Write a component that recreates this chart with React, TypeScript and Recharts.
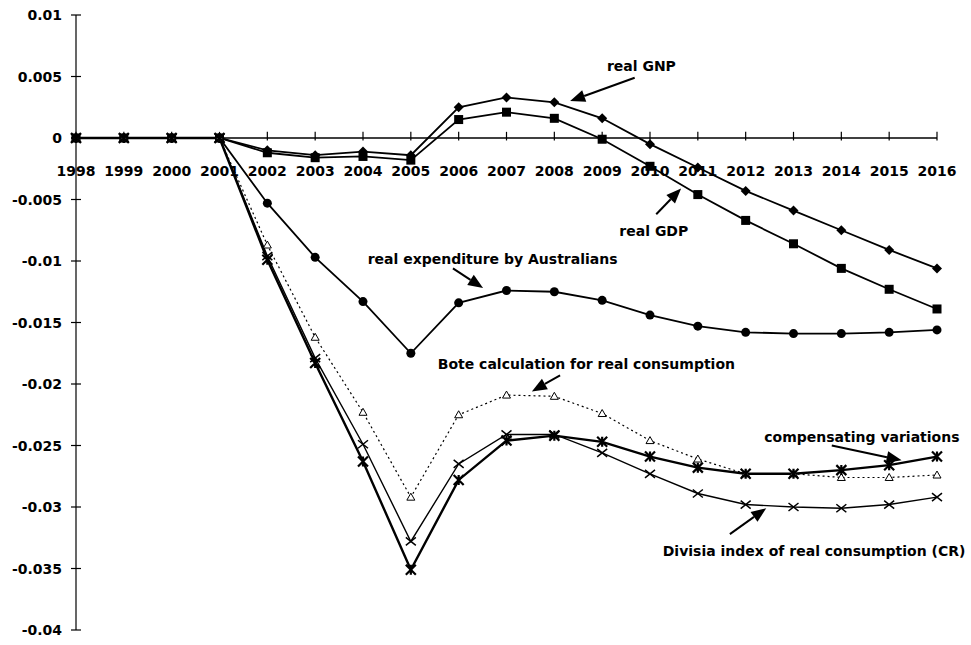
import React from 'react';
import { LineChart, Line, XAxis, YAxis, ReferenceLine, ReferenceDot } from 'recharts';

const years = [1998, 1999, 2000, 2001, 2002, 2003, 2004, 2005, 2006, 2007, 2008, 2009, 2010, 2011, 2012, 2013, 2014, 2015, 2016];
const yTicks = [0.01, 0.005, 0, -0.005, -0.01, -0.015, -0.02, -0.025, -0.03, -0.035, -0.04];

const realGNP = [0, 0, 0, 0, -0.001, -0.0014, -0.0011, -0.0014, 0.0025, 0.0033, 0.0029, 0.0016, -0.0005, -0.0024, -0.0043, -0.0059, -0.0075, -0.0091, -0.0106];
const realGDP = [0, 0, 0, 0, -0.0012, -0.0016, -0.0015, -0.0018, 0.0015, 0.0021, 0.0016, -0.0001, -0.0023, -0.0046, -0.0067, -0.0086, -0.0106, -0.0123, -0.0139];
const realExpenditure = [0, 0, 0, 0, -0.0053, -0.0097, -0.0133, -0.0175, -0.0134, -0.0124, -0.0125, -0.0132, -0.0144, -0.0153, -0.0158, -0.0159, -0.0159, -0.0158, -0.0156];
const bote = [0, 0, 0, 0, -0.0087, -0.0162, -0.0223, -0.0292, -0.0225, -0.0209, -0.021, -0.0224, -0.0246, -0.0261, -0.0273, -0.0273, -0.0276, -0.0276, -0.0274];
const compensating = [0, 0, 0, 0, -0.0099, -0.0183, -0.0263, -0.0351, -0.0278, -0.0246, -0.0242, -0.0247, -0.0259, -0.0268, -0.0273, -0.0273, -0.027, -0.0266, -0.0259];
const divisia = [0, 0, 0, 0, -0.0096, -0.0179, -0.0249, -0.0328, -0.0265, -0.0241, -0.0241, -0.0256, -0.0273, -0.0289, -0.0298, -0.03, -0.0301, -0.0298, -0.0292];

// annotation text (centre) and arrows, in data units
const notes = [
  { text: 'real GNP', x: 2009.82, y: 0.00585 },
  { text: 'real GDP', x: 2010.08, y: -0.0076 },
  { text: 'real expenditure by Australians', x: 2006.71, y: -0.0098 },
  { text: 'Bote calculation for real consumption', x: 2008.67, y: -0.0184 },
  { text: 'compensating variations', x: 2014.43, y: -0.0243 },
  { text: 'Divisia index of real consumption (CR)', x: 2013.43, y: -0.0336 },
];
const arrows = [
  { x1: 2009.68, y1: 0.0049, x2: 2008.33, y2: 0.003 },
  { x1: 2010.13, y1: -0.0062, x2: 2010.65, y2: -0.0041 },
  { x1: 2005.88, y1: -0.0106, x2: 2006.51, y2: -0.0122 },
  { x1: 2008.12, y1: -0.0193, x2: 2007.53, y2: -0.0206 },
  { x1: 2013.8, y1: -0.025, x2: 2015.26, y2: -0.0262 },
  { x1: 2011.67, y1: -0.0322, x2: 2012.43, y2: -0.0301 },
];

const data = years.map((year, i) => ({
  year,
  gnp: realGNP[i],
  gdp: realGDP[i],
  exp: realExpenditure[i],
  bote: bote[i],
  comp: compensating[i],
  div: divisia[i],
}));

const FONT = '"DejaVu Sans", Arial, sans-serif';

const diamond = (p: any) => (
  <path key={`dm${p.index}`} d={`M${p.cx},${p.cy - 5}L${p.cx + 5},${p.cy}L${p.cx},${p.cy + 5}L${p.cx - 5},${p.cy}Z`} fill="#000" />
);
const square = (p: any) => <rect key={`sq${p.index}`} x={p.cx - 4.5} y={p.cy - 4.5} width={9} height={9} fill="#000" />;
const circle = (p: any) => <circle key={`ci${p.index}`} cx={p.cx} cy={p.cy} r={4.5} fill="#000" />;
const triangle = (p: any) => (
  <path key={`tr${p.index}`} d={`M${p.cx},${p.cy - 4}L${p.cx + 4},${p.cy + 3}L${p.cx - 4},${p.cy + 3}Z`} fill="#fff" stroke="#000" strokeWidth={1} />
);
const asterisk = (p: any) => (
  <path key={`as${p.index}`} d={`M${p.cx - 5},${p.cy - 5}L${p.cx + 5},${p.cy + 5}M${p.cx - 5},${p.cy + 5}L${p.cx + 5},${p.cy - 5}M${p.cx},${p.cy - 5}L${p.cx},${p.cy + 5}`} stroke="#000" strokeWidth={2.2} />
);
const cross = (p: any) => (
  <path key={`cr${p.index}`} d={`M${p.cx - 5},${p.cy - 4}L${p.cx + 5},${p.cy + 4}M${p.cx - 5},${p.cy + 4}L${p.cx + 5},${p.cy - 4}`} stroke="#000" strokeWidth={1.5} />
);

const YTick = (props: any) => {
  const { x, y, payload } = props;
  return (
    <g>
      <line x1={x - 5} x2={x + 5} y1={y} y2={y} stroke="#000" strokeWidth={1.2} />
      <text x={x - 14} y={y} textAnchor="end" dominantBaseline="central" fontFamily={FONT} fontWeight="bold" fontSize={14} fill="#000">
        {String(payload.value)}
      </text>
    </g>
  );
};

const Arrow = (props: any) => {
  const { x1, y1, x2, y2 } = props;
  const ang = Math.atan2(y2 - y1, x2 - x1);
  const len = 15;
  const w = 6;
  const bx = x2 - len * Math.cos(ang);
  const by = y2 - len * Math.sin(ang);
  const px = -Math.sin(ang) * w;
  const py = Math.cos(ang) * w;
  return (
    <g>
      <line x1={x1} y1={y1} x2={bx} y2={by} stroke="#000" strokeWidth={2} />
      <path d={`M${x2},${y2}L${bx + px},${by + py}L${bx - px},${by - py}Z`} fill="#000" />
    </g>
  );
};

export default function App() {
  return (
    <div style={{ position: 'absolute', left: 0, top: 0, background: '#fff' }}>
      <LineChart width={971} height={645} data={data} margin={{ top: 15, right: 34, bottom: 15, left: 0 }}>
        <XAxis dataKey="year" type="number" domain={[1998, 2016]} hide />
        <YAxis
          width={76}
          domain={[-0.04, 0.01]}
          ticks={yTicks}
          interval={0}
          tickSize={0}
          tickMargin={0}
          tickLine={false}
          axisLine={{ stroke: '#000', strokeWidth: 1.2 }}
          tick={<YTick />}
        />
        <ReferenceLine y={0} stroke="#000" strokeWidth={1.4} />
        {years.map((yr) => (
          <ReferenceLine
            key={`t${yr}`}
            segment={[{ x: yr, y: 0.0005 }, { x: yr, y: -0.0002 }]}
            stroke="#000"
            strokeWidth={1.2}
          />
        ))}
        {years.map((yr) => (
          <ReferenceDot
            key={`l${yr}`}
            x={yr}
            y={0}
            r={0}
            shape={(p: any) => (
              <text x={p.cx} y={p.cy + 38} textAnchor="middle" fontFamily={FONT} fontWeight="bold" fontSize={14} fill="#000">
                {yr}
              </text>
            )}
          />
        ))}
        <Line dataKey="exp" stroke="#000" strokeWidth={1.8} dot={circle} isAnimationActive={false} />
        <Line dataKey="gdp" stroke="#000" strokeWidth={1.8} dot={square} isAnimationActive={false} />
        <Line dataKey="gnp" stroke="#000" strokeWidth={1.8} dot={diamond} isAnimationActive={false} />
        <Line dataKey="bote" stroke="#000" strokeWidth={1.2} strokeDasharray="2 3" dot={triangle} isAnimationActive={false} />
        <Line dataKey="div" stroke="#000" strokeWidth={1.4} dot={cross} isAnimationActive={false} />
        <Line dataKey="comp" stroke="#000" strokeWidth={2.4} dot={asterisk} isAnimationActive={false} />
        {arrows.map((a, i) => (
          <ReferenceLine
            key={`a${i}`}
            segment={[{ x: a.x1, y: a.y1 }, { x: a.x2, y: a.y2 }]}
            stroke="#000"
            shape={<Arrow />}
          />
        ))}
        {notes.map((n) => (
          <ReferenceDot
            key={n.text}
            x={n.x}
            y={n.y}
            r={0}
            shape={(p: any) => (
              <text x={p.cx} y={p.cy} textAnchor="middle" dominantBaseline="central" fontFamily={FONT} fontWeight="bold" fontSize={14} fill="#000">
                {n.text}
              </text>
            )}
          />
        ))}
      </LineChart>
    </div>
  );
}
